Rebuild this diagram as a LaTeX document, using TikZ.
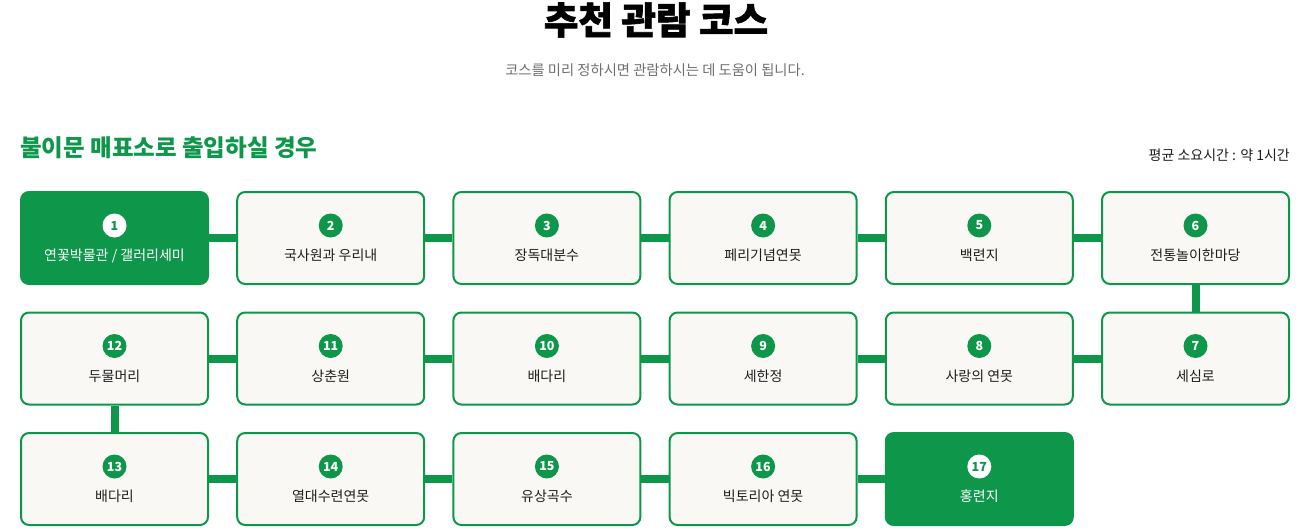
\documentclass[tikz,border=0pt]{standalone}
\usepackage{fontspec}
\setmainfont{Noto Sans CJK KR}
\newfontfamily\titlefont[BoldFeatures={FakeBold=1.6}]{Noto Sans CJK KR}
\usetikzlibrary{backgrounds}
\definecolor{pgreen}{RGB}{14,151,74}
\definecolor{pbeige}{RGB}{250,248,245}
\definecolor{ptext}{RGB}{30,30,30}
\definecolor{pgray}{RGB}{110,110,110}
\tikzset{
  stopbox/.style={draw=pgreen, line width=2pt, rounded corners=8pt, fill=pbeige,
    minimum width=187pt, minimum height=92pt, inner sep=0pt},
  stopfill/.style={stopbox, fill=pgreen},
  numc/.style={circle, fill=pgreen, text=white, minimum size=24pt, inner sep=0pt,
    font=\fontsize{12.5}{12.5}\selectfont\bfseries},
  numcw/.style={numc, fill=white, text=pgreen},
  lab/.style={font=\fontsize{14}{14}\selectfont, text=ptext, inner sep=0pt},
  labw/.style={lab, text=white},
  link/.style={pgreen, line width=8pt},
}
\begin{document}
\begin{tikzpicture}[x=1pt,y=-1pt]
\useasboundingbox (0,0) rectangle (1316,530);
\node[font=\titlefont\fontsize{37.5}{37.5}\selectfont\bfseries, text=black, inner sep=0pt] (title) at (656,20) {추천 관람 코스};
\node[font=\fontsize{14.3}{14.3}\selectfont, text=pgray, inner sep=0pt] (sub) at (655,70) {코스를 미리 정하시면 관람하시는 데 도움이 됩니다.};
\node[font=\fontsize{23.5}{23.5}\selectfont\bfseries, text=pgreen, inner sep=0pt, anchor=west] (head) at (20,148) {불이문 매표소로 출입하실 경우};
\node[font=\fontsize{14}{14}\selectfont, text=ptext, inner sep=0pt, anchor=east] (time) at (1290,155) {평균 소요시간 : 약 1시간};
% normal stops
\foreach \n/\c/\yy/\t in {
  2/1/238/국사원과 우리내, 3/2/238/장독대분수, 4/3/238/페리기념연못, 5/4/238/백련지, 6/5/238/전통놀이한마당,
  7/5/358.5/세심로, 8/4/358.5/사랑의 연못, 9/3/358.5/세한정, 10/2/358.5/배다리, 11/1/358.5/상춘원, 12/0/358.5/두물머리,
  13/0/479/배다리, 14/1/479/열대수련연못, 15/2/479/유상곡수, 16/3/479/빅토리아 연못}{
  \node[stopbox] (b\n) at ({114.5+216.2*\c},\yy) {};
  \node[numc] (c\n) at ([yshift=12.5pt]b\n.center) {\n};
  \node[lab] (l\n) at ([yshift=-17.5pt]b\n.center) {\t};
}
% filled stops
\foreach \n/\c/\yy/\t in {1/0/238/{연꽃박물관 / 갤러리세미}, 17/4/479/홍련지}{
  \node[stopfill] (b\n) at ({114.5+216.2*\c},\yy) {};
  \node[numcw] (c\n) at ([yshift=12.5pt]b\n.center) {\n};
  \node[labw] (l\n) at ([yshift=-17.5pt]b\n.center) {\t};
}
\begin{scope}[on background layer]
  \foreach \a/\b in {1/2,2/3,3/4,4/5,5/6,8/7,9/8,10/9,11/10,12/11,13/14,14/15,15/16,16/17}
    \draw[link] (b\a.east) -- (b\b.west);
  \draw[link] (b6.south) -- (b7.north);
  \draw[link] (b12.south) -- (b13.north);
\end{scope}
\end{tikzpicture}
\end{document}
